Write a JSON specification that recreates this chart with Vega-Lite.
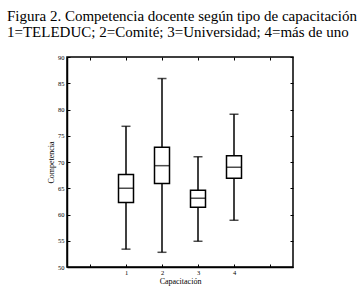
{
  "$schema": "https://vega.github.io/schema/vega-lite/v6.json",
  "width": 226,
  "height": 210,
  "autosize": "none",
  "padding": {"left": 67, "top": 57, "right": 68, "bottom": 26},
  "background": "white",
  "config": {
    "font": "Liberation Serif",
    "view": {"stroke": "black", "strokeWidth": 1.5},
    "axis": {"grid": false, "domainColor": "black", "domainWidth": 1.5, "tickColor": "black", "labelColor": "black", "titleColor": "black", "labelFont": "Liberation Serif", "titleFont": "Liberation Serif", "labelFontSize": 6.5, "titleFontSize": 8, "titleFontWeight": "normal", "tickSize": -3, "tickWidth": 1}
  },
  "title": {
    "text": ["Figura 2. Competencia docente según tipo de capacitación", "1=TELEDUC; 2=Comité; 3=Universidad; 4=más de uno"],
    "anchor": "start",
    "frame": "group",
    "dx": -60,
    "offset": 14,
    "font": "Liberation Serif",
    "fontSize": 15,
    "lineHeight": 16,
    "fontWeight": "normal",
    "color": "black"
  },
  "data": {
    "values": [
      {"cap": 1, "lower": 53.4, "q1": 62.3, "median": 65.0, "q3": 67.6, "upper": 76.8},
      {"cap": 2, "lower": 52.8, "q1": 65.9, "median": 69.3, "q3": 72.8, "upper": 85.9},
      {"cap": 3, "lower": 54.9, "q1": 61.4, "median": 63.1, "q3": 64.6, "upper": 71.0},
      {"cap": 4, "lower": 58.9, "q1": 66.9, "median": 69.0, "q3": 71.2, "upper": 79.1}
    ]
  },
  "encoding": {
    "x": {"field": "cap", "type": "quantitative", "scale": {"domain": [-0.5, 5.5], "nice": false, "zero": false}},
    "y": {"type": "quantitative", "scale": {"domain": [50, 90], "nice": false, "zero": false}}
  },
  "resolve": {"axis": {"x": "independent", "y": "independent"}},
  "layer": [
    {
      "mark": {"type": "rule", "color": "black", "strokeWidth": 1.5},
      "encoding": {
        "x": {"field": "cap", "type": "quantitative", "axis": {"orient": "top", "values": [0, 1, 2, 3, 4, 5], "labels": false, "title": null, "domain": false}},
        "y": {"field": "lower", "type": "quantitative", "axis": {"orient": "right", "values": [50, 55, 60, 65, 70, 75, 80, 85, 90], "labels": false, "title": null, "domain": false}},
        "y2": {"field": "upper"}
      }
    },
    {
      "mark": {"type": "bar", "width": 15, "fill": "white", "stroke": "black", "strokeWidth": 1.5, "orient": "vertical"},
      "encoding": {
        "x": {"field": "cap", "type": "quantitative", "axis": {"orient": "bottom", "values": [0, 1, 2, 3, 4, 5], "labelExpr": "datum.value >= 1 && datum.value <= 4 ? datum.label : ''", "title": "Capacitación", "labelPadding": 5, "titlePadding": 2}},
        "y": {"field": "q1", "type": "quantitative", "axis": {"orient": "left", "values": [50, 55, 60, 65, 70, 75, 80, 85, 90], "title": "Competencia", "labelPadding": 6, "titlePadding": 2}},
        "y2": {"field": "q3"}
      }
    },
    {
      "mark": {"type": "tick", "orient": "horizontal", "size": 15, "thickness": 1.5, "color": "black"},
      "encoding": {
        "x": {"field": "cap", "type": "quantitative", "axis": null},
        "y": {"field": "median", "type": "quantitative", "axis": null}
      }
    },
    {
      "mark": {"type": "tick", "orient": "horizontal", "size": 9, "thickness": 1.5, "color": "black"},
      "encoding": {
        "x": {"field": "cap", "type": "quantitative", "axis": null},
        "y": {"field": "upper", "type": "quantitative", "axis": null}
      }
    },
    {
      "mark": {"type": "tick", "orient": "horizontal", "size": 9, "thickness": 1.5, "color": "black"},
      "encoding": {
        "x": {"field": "cap", "type": "quantitative", "axis": null},
        "y": {"field": "lower", "type": "quantitative", "axis": null}
      }
    }
  ]
}
